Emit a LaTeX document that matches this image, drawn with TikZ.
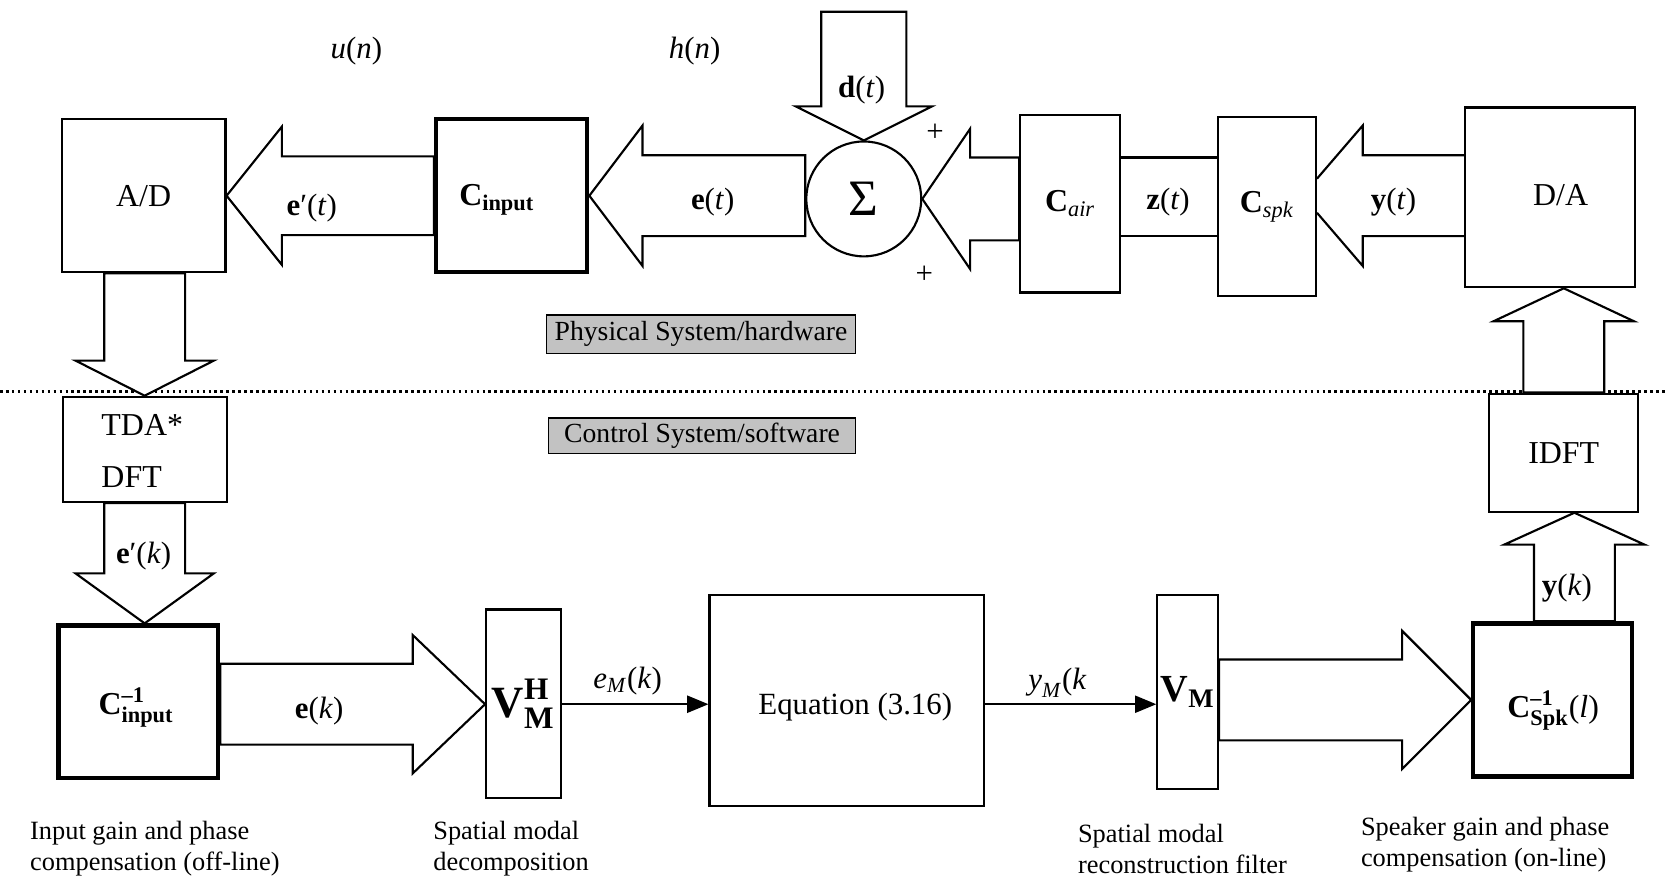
\documentclass[tikz,border=0pt]{standalone}
\usepackage{amsmath}
\usepackage{fontspec}
\setmainfont{Liberation Serif}
\usetikzlibrary{calc,arrows.meta}
\newcommand{\tx}[1]{\text{#1}}
% horizontal block arrow: tail, tip, stem half, head half, head length (+ = points left)
\newcommand{\harrow}[5]{%
  \draw[blk] ($(#1 |- #2)+(0,-#3)$) -- ($(#2)+(#5,-#3)$) -- ($(#2)+(#5,-#4)$) -- (#2)
   -- ($(#2)+(#5,#4)$) -- ($(#2)+(#5,#3)$) -- ($(#1 |- #2)+(0,#3)$) -- cycle;}
% vertical block arrow: tail, tip, stem half, head half, head length (+ = points up)
\newcommand{\varrow}[5]{%
  \draw[blk] ($(#1 -| #2)+(-#3,0)$) -- ($(#2)+(-#3,#5)$) -- ($(#2)+(-#4,#5)$) -- (#2)
   -- ($(#2)+(#4,#5)$) -- ($(#2)+(#3,#5)$) -- ($(#1 -| #2)+(#3,0)$) -- cycle;}
\begin{document}
\begin{tikzpicture}[x=0.5pt,y=-0.5pt,line join=miter,
  box/.style={draw,line width=1pt,fill=white,inner sep=0pt,align=center,font=\fontsize{15}{18}\selectfont},
  tbox/.style={box,line width=2pt},
  blk/.style={draw,line width=1pt,fill=white},
  ln/.style={draw,line width=1pt},
  lbl/.style={inner sep=0pt,font=\fontsize{14.5}{17}\selectfont},
  captxt/.style={inner sep=0pt,anchor=west,align=left,font=\fontsize{12.4}{14.5}\selectfont},
  shade/.style={draw,line width=0.6pt,fill=black!24,inner sep=0pt,font=\fontsize{13}{15}\selectfont},
  sig/.style={draw,line width=1pt,-{Triangle[length=10pt,width=8pt]}}]
\useasboundingbox (0,0) rectangle (1568,835);
\fill[white] (0,0) rectangle (1568,835);
% separator
\draw[line width=1pt,dash pattern=on 1.2pt off 1.6pt] (0,368) -- (1568,368);
% helper coordinates
\coordinate (c184) at (0,184);
\coordinate (zy1) at (0,148);
\coordinate (zy2) at (0,222);
\coordinate (c662) at (0,662);
\coordinate (x1480) at (1480,0);
\coordinate (dtop) at (810,11);
% blocks
\node[box,minimum width=77pt,minimum height=72pt] (AD) at (135,184) {A/D};
\node[tbox,minimum width=71pt,minimum height=72pt] (Cin) at (481,184) {};
\node[lbl,font=\fontsize{15}{18}\selectfont] (Cint) at (467,188) {$\tx{\textbf{C}}_{\tx{\textbf{input}}}$};
\node[draw,circle,line width=1pt,fill=white,minimum size=54pt,inner sep=0pt] (Sum) at (812,187) {\fontsize{24}{24}\selectfont Σ};
\node[box,minimum width=47pt,minimum height=83.5pt] (Cair) at (1006,191.5) {$\tx{\textbf{C}}_{\tx{\textit{air}}}$};
\node[box,minimum width=46pt,minimum height=84pt] (Cspk) at (1191,194) {$\tx{\textbf{C}}_{\tx{\textit{spk}}}$};
\node[box,minimum width=80pt,minimum height=84.5pt] (DA) at (1457,185.5) {};
\node[lbl,font=\fontsize{15}{18}\selectfont] (DAt) at (1467,183) {D/A};
\node[box,minimum width=77pt,minimum height=49.5pt] (TDA) at (136,422.5) {};
\node[lbl,anchor=base west,font=\fontsize{15}{18}\selectfont] (tdat) at (95,409) {TDA*};
\node[lbl,anchor=base west,font=\fontsize{15}{18}\selectfont] (dftt) at (95,458) {DFT};
\node[box,minimum width=70pt,minimum height=55.5pt] (IDFT) at (1470,425.5) {IDFT};
\node[tbox,minimum width=75pt,minimum height=71.5pt] (Cinv) at (130,659.5) {};
\node[lbl,font=\fontsize{15}{18}\selectfont] (Cinvt) at (128,665) {$\tx{\textbf{C}}^{\tx{\textbf{–1}}}_{\tx{\textbf{input}}}$};
\node[box,minimum width=35pt,minimum height=88.5pt] (VMH) at (492,661.5) {\fontsize{21}{21}\selectfont$\tx{\textbf{V}}^{\tx{\textbf{H}}}_{\tx{\textbf{M}}}$};
\node[box,minimum width=129pt,minimum height=99.5pt] (Eq) at (796,658.5) {};
\node[lbl] (Eqt) at (804,665) {Equation (3.16)};
\node[box,minimum width=28.5pt,minimum height=91.5pt] (VM) at (1116.5,650.5) {\fontsize{18}{18}\selectfont$\tx{\textbf{V}}_{\tx{\textbf{M}}}$};
\node[tbox,minimum width=74.5pt,minimum height=72pt] (Cspkinv) at (1459.5,658) {};
\node[lbl,font=\fontsize{15}{18}\selectfont] (Cspkinvt) at (1460,668) {$\tx{\textbf{C}}^{\tx{\textbf{–1}}}_{\tx{\textbf{Spk}}}$(\textit{l})};
% tip coordinates
\coordinate (t8) at (TDA.south |- Cinv.north);
\coordinate (t9) at (VMH.west |- c662);
\coordinate (t13) at (x1480 |- IDFT.south);
\coordinate (t14) at (IDFT.north |- DA.south);
% block arrows (physical)
\harrow{Cin.west}{AD.east}{37}{65}{52}
\harrow{Sum.west}{Cin.east}{38}{66}{50}
\harrow{Cair.west}{Sum.east}{39}{66}{45}
\varrow{dtop}{Sum.north}{40}{64}{-32}
\draw[ln] (Cair.east |- zy1) -- (Cspk.west |- zy1);
\draw[ln] (Cair.east |- zy2) -- (Cspk.west |- zy2);
\draw[ln] ($(DA.west |- c184)+(0,-38)$) -- ($(Cspk.east |- c184)+(43,-38)$) -- ($(Cspk.east |- c184)+(43,-66)$) -- ($(Cspk.east |- c184)+(0,-16)$);
\draw[ln] ($(DA.west |- c184)+(0,38)$) -- ($(Cspk.east |- c184)+(43,38)$) -- ($(Cspk.east |- c184)+(43,66)$) -- ($(Cspk.east |- c184)+(0,16)$);
\varrow{AD.south}{TDA.north}{38}{65}{-33}
\varrow{IDFT.north}{t14}{38}{66}{31}
% block arrows (control)
\varrow{TDA.south}{t8}{38}{65}{-47}
\harrow{Cinv.east}{t9}{38}{65}{-68}
\harrow{VM.east}{Cspkinv.west}{38}{65}{-65}
\varrow{Cspkinv.north}{t13}{38}{66}{30}
% signal arrows
\draw[sig] (VMH.east |- c662) -- (Eq.west |- c662);
\draw[sig] (Eq.east |- c662) -- (VM.west |- c662);
% labels
\node[lbl] (un) at (335,48) {\textit{u}(\textit{n})};
\node[lbl] (hn) at (653,48) {\textit{h}(\textit{n})};
\node[lbl] (ept) at (293,196) {\textbf{e}′(\textit{t})};
\node[lbl] (et) at (670,190) {\textbf{e}(\textit{t})};
\node[lbl] (dt) at (810,85) {\textbf{d}(\textit{t})};
\node[lbl] (p1) at (879,125) {+};
\node[lbl] (p2) at (869,258) {+};
\node[lbl] (zt) at (1098,190) {\textbf{z}(\textit{t})};
\node[lbl] (yt) at (1310,190) {\textbf{y}(\textit{t})};
\node[shade,minimum width=145pt,minimum height=18pt] (phys) at (659,314) {Physical System/hardware};
\node[shade,minimum width=144.5pt,minimum height=16.5pt] (ctrl) at (660,409.5) {Control System/software};
\node[lbl] (epk) at (135,523) {\textbf{e}′(\textit{k})};
\node[lbl] (ek) at (300,668) {\textbf{e}(\textit{k})};
\node[lbl] (emk) at (590,640) {$\tx{\textit{e}}_{\tx{\textit{M}}}$(\textit{k})};
\node[lbl] (ymk) at (994,642) {$\tx{\textit{y}}_{\tx{\textit{M}}}$(\textit{k}};
\node[lbl] (yk) at (1473,553) {\textbf{y}(\textit{k})};
% captions
\node[captxt] (c1) at (28,798) {Input gain and phase\\compensation (off-line)};
\node[captxt] (c2) at (407,798) {Spatial modal\\decomposition};
\node[captxt] (c3) at (1013,798) {Spatial modal\\reconstruction filter};
\node[captxt] (c4) at (1279,794) {Speaker gain and phase\\compensation (on-line)};
\end{tikzpicture}
\end{document}
